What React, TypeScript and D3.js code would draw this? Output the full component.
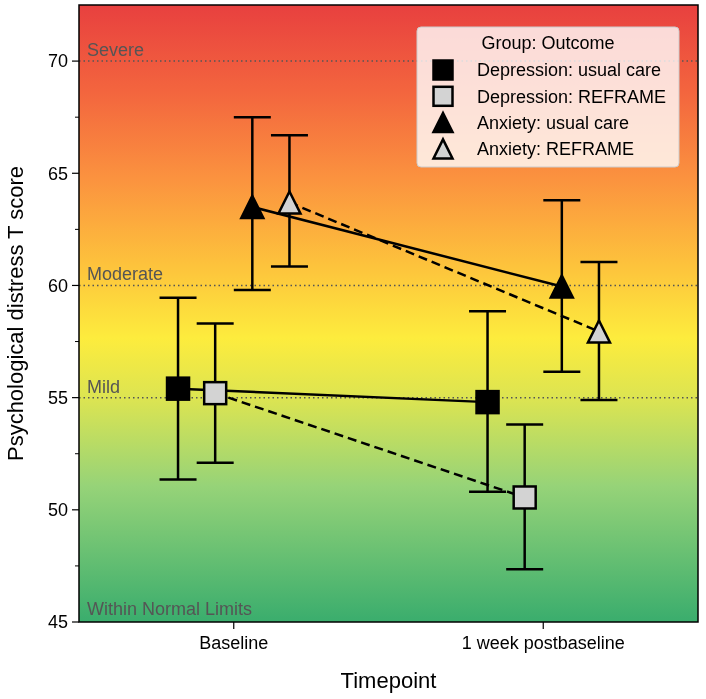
import React from 'react';
import * as d3 from 'd3';

const timepoints = ['Baseline', '1 week postbaseline'];
const groups = ['Depression: usual care', 'Depression: REFRAME', 'Anxiety: usual care', 'Anxiety: REFRAME'];

// mean, lower and upper error per group, one value per timepoint
const depUsualMean = [55.4, 54.8];
const depUsualLow = [51.35, 50.8];
const depUsualHigh = [59.45, 58.85];

const depReframeMean = [55.2, 50.55];
const depReframeLow = [52.1, 47.35];
const depReframeHigh = [58.3, 53.8];

const anxUsualMean = [63.5, 59.95];
const anxUsualLow = [59.8, 56.15];
const anxUsualHigh = [67.5, 63.8];

const anxReframeMean = [63.7, 57.95];
const anxReframeLow = [60.85, 54.9];
const anxReframeHigh = [66.7, 61.05];

const yTicks = [45, 50, 55, 60, 65, 70];
const yMinorTicks = [47.5, 52.5, 57.5, 62.5, 67.5];

const bands = [
  { label: 'Severe', value: 70 },
  { label: 'Moderate', value: 60 },
  { label: 'Mild', value: 55 },
];

const seriesList = [
  { name: groups[0], mean: depUsualMean, low: depUsualLow, high: depUsualHigh, offset: -0.18, shape: 'square', fill: '#000', dashed: false },
  { name: groups[1], mean: depReframeMean, low: depReframeLow, high: depReframeHigh, offset: -0.06, shape: 'square', fill: '#d3d3d3', dashed: true },
  { name: groups[2], mean: anxUsualMean, low: anxUsualLow, high: anxUsualHigh, offset: 0.06, shape: 'triangle', fill: '#000', dashed: false },
  { name: groups[3], mean: anxReframeMean, low: anxReframeLow, high: anxReframeHigh, offset: 0.18, shape: 'triangle', fill: '#d3d3d3', dashed: true },
];

const W = 706;
const H = 699;
const margin = { top: 5, right: 8, bottom: 77, left: 79 };
const font = '"Liberation Sans", Arial, sans-serif';

function Marker({ shape, x, y, size, fill }: { shape: string; x: number; y: number; size: number; fill: string }) {
  const h = size / 2;
  if (shape === 'square') {
    return <rect x={x - h} y={y - h} width={size} height={size} fill={fill} stroke="#000" strokeWidth={2.5} />;
  }
  const pts = `${x},${y - h} ${x - h},${y + h} ${x + h},${y + h}`;
  return <polygon points={pts} fill={fill} stroke="#000" strokeWidth={2.5} strokeLinejoin="miter" />;
}

export default function App() {
  const innerW = W - margin.left - margin.right;
  const innerH = H - margin.top - margin.bottom;
  const x0 = margin.left;
  const y0 = margin.top;

  const xScale = d3.scaleLinear().domain([-0.5, 1.5]).range([x0, x0 + innerW]);
  const yScale = d3.scaleLinear().domain([45, 72.5]).range([y0 + innerH, y0]);

  const capW = 18.5;

  return (
    <div style={{ position: 'fixed', left: 0, top: 0 }}>
      <svg width={W} height={H} style={{ display: 'block', fontFamily: font }}>
        <defs>
          <linearGradient id="bg-grad" x1="0" y1="0" x2="0" y2="1">
            <stop offset="0%" stopColor="#e8403f" />
            <stop offset="14%" stopColor="#f3653e" />
            <stop offset="28%" stopColor="#fb923f" />
            <stop offset="42%" stopColor="#fdc23c" />
            <stop offset="54%" stopColor="#fdec3d" />
            <stop offset="64%" stopColor="#dbe452" />
            <stop offset="78%" stopColor="#96d378" />
            <stop offset="100%" stopColor="#3aad6d" />
          </linearGradient>
        </defs>

        <rect x={x0} y={y0} width={innerW} height={innerH} fill="url(#bg-grad)" />

        {/* severity bands */}
        {bands.map(b => (
          <g key={b.label}>
            <line x1={x0} x2={x0 + innerW} y1={yScale(b.value)} y2={yScale(b.value)}
              stroke="#555" strokeWidth={1.5} strokeDasharray="1.5,3" />
            <text x={x0 + 8} y={yScale(b.value) - 5} fontSize={18} fill="#555">{b.label}</text>
          </g>
        ))}
        <text x={x0 + 8} y={yScale(45) - 7} fontSize={18} fill="#555">Within Normal Limits</text>

        {/* connecting lines */}
        {seriesList.map(s => {
          const line = d3.line<number>()
            .x((_, i) => xScale(i + s.offset))
            .y(d => yScale(d));
          return (
            <path key={s.name + '-line'} d={line(s.mean) || ''} fill="none" stroke="#000"
              strokeWidth={2.5} strokeDasharray={s.dashed ? '9,5' : undefined} />
          );
        })}

        {/* error bars */}
        {seriesList.map(s => s.mean.map((_, i) => {
          const cx = xScale(i + s.offset);
          const yl = yScale(s.low[i]);
          const yh = yScale(s.high[i]);
          return (
            <g key={s.name + '-err-' + i} stroke="#000" strokeWidth={2.5}>
              <line x1={cx} x2={cx} y1={yl} y2={yh} />
              <line x1={cx - capW} x2={cx + capW} y1={yl} y2={yl} />
              <line x1={cx - capW} x2={cx + capW} y1={yh} y2={yh} />
            </g>
          );
        }))}

        {/* markers */}
        {seriesList.map(s => s.mean.map((v, i) => (
          <Marker key={s.name + '-m-' + i} shape={s.shape} x={xScale(i + s.offset)} y={yScale(v)} size={22} fill={s.fill} />
        )))}

        {/* axes frame */}
        <rect x={x0} y={y0} width={innerW} height={innerH} fill="none" stroke="#000" strokeWidth={1.5} />

        {/* y ticks */}
        {yTicks.map(t => (
          <g key={'yt' + t}>
            <line x1={x0 - 7} x2={x0} y1={yScale(t)} y2={yScale(t)} stroke="#000" strokeWidth={1.2} />
            <text x={x0 - 11} y={yScale(t)} dy="0.35em" textAnchor="end" fontSize={18} fill="#000">{t}</text>
          </g>
        ))}
        {yMinorTicks.map(t => (
          <line key={'ym' + t} x1={x0 - 4} x2={x0} y1={yScale(t)} y2={yScale(t)} stroke="#000" strokeWidth={1} />
        ))}

        {/* x ticks */}
        {timepoints.map((t, i) => (
          <g key={t}>
            <line x1={xScale(i)} x2={xScale(i)} y1={y0 + innerH} y2={y0 + innerH + 7} stroke="#000" strokeWidth={1.2} />
            <text x={xScale(i)} y={y0 + innerH + 27} textAnchor="middle" fontSize={18} fill="#000">{t}</text>
          </g>
        ))}

        {/* axis titles */}
        <text x={x0 + innerW / 2} y={688} textAnchor="middle" fontSize={22} fill="#000">Timepoint</text>
        <text transform={`translate(23, ${y0 + innerH / 2}) rotate(-90)`} textAnchor="middle" fontSize={22} fill="#000">
          Psychological distress T score
        </text>

        {/* legend */}
        <g>
          <rect x={417} y={27} width={262} height={140} rx={4} fill="#fff" fillOpacity={0.8} stroke="#ccc" strokeWidth={1} />
          <text x={548} y={49} textAnchor="middle" fontSize={18} fill="#000">Group: Outcome</text>
          {seriesList.map((s, i) => (
            <g key={'leg' + s.name}>
              <Marker shape={s.shape} x={443} y={70 + i * 26.3} size={19} fill={s.fill} />
              <text x={477} y={70 + i * 26.3} dy="0.35em" fontSize={18} fill="#000">{s.name}</text>
            </g>
          ))}
        </g>
      </svg>
    </div>
  );
}
